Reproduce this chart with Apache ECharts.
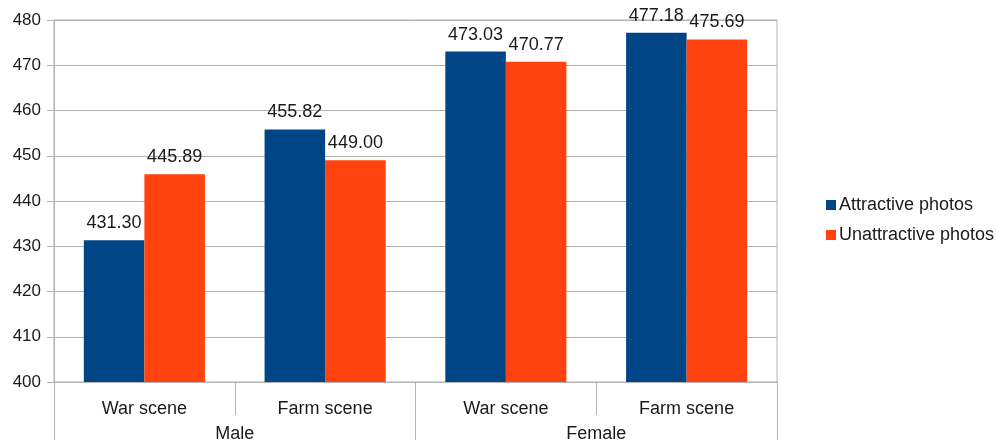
<!DOCTYPE html>
<html>
<head>
<meta charset="utf-8">
<script src="https://cdn.jsdelivr.net/npm/echarts@6/dist/echarts.min.js"></script>
<style>
  html, body { margin: 0; padding: 0; background: #fff; }
  #chart { width: 996px; height: 443px; }
</style>
</head>
<body>
<div id="chart"></div>
<script>
// Scene categories (inner level) and gender groups (outer level)
const scenes = ['War scene', 'Farm scene', 'War scene', 'Farm scene'];
const genders = ['Male', 'Female'];
const seriesNames = ['Attractive photos', 'Unattractive photos'];
const attractive = [431.30, 455.82, 473.03, 477.18];
const unattractive = [445.89, 449.00, 470.77, 475.69];
const yTicks = { min: 400, max: 480, step: 10 };

const FONT = '"Liberation Sans", Arial, sans-serif';
const TEXT = '#1a1a1a';
const LINE = '#b3b3b3';

const chart = echarts.init(document.getElementById('chart'));

function valueLabel() {
  return {
    show: true,
    position: 'top',
    distance: 8,
    color: TEXT,
    fontFamily: FONT,
    fontSize: 18,
    formatter: p => p.value.toFixed(2)
  };
}

chart.setOption({
  animation: false,
  backgroundColor: '#fff',
  textStyle: { fontFamily: FONT },
  grid: {
    left: 54, right: 219, top: 20, bottom: 61,
    show: true, borderColor: LINE, borderWidth: 1, backgroundColor: 'transparent'
  },
  legend: {
    orient: 'vertical',
    left: 826,
    top: 196,
    padding: 0,
    icon: 'rect',
    itemWidth: 10,
    itemHeight: 10,
    itemGap: 12,
    textStyle: { color: TEXT, fontFamily: FONT, fontSize: 18, padding: [0, 0, 0, -2] },
    data: seriesNames
  },
  xAxis: [
    {
      type: 'category',
      data: scenes,
      axisLine: { show: true, lineStyle: { color: LINE } },
      axisTick: { show: true, length: 33, interval: 0, lineStyle: { color: LINE } },
      axisLabel: { color: TEXT, fontFamily: FONT, fontSize: 18, margin: 18, interval: 0 },
      splitLine: { show: false }
    },
    {
      type: 'category',
      data: genders,
      position: 'bottom',
      axisLine: { show: false },
      axisTick: { show: true, length: 58, interval: 0, lineStyle: { color: LINE } },
      axisLabel: { color: TEXT, fontFamily: FONT, fontSize: 18, margin: 43, interval: 0 },
      splitLine: { show: false }
    }
  ],
  yAxis: {
    type: 'value',
    min: yTicks.min,
    max: yTicks.max,
    interval: yTicks.step,
    axisLine: { show: true, lineStyle: { color: LINE } },
    axisTick: { show: true, length: 7, lineStyle: { color: LINE } },
    axisLabel: { color: TEXT, fontFamily: FONT, fontSize: 17, margin: 13 },
    splitLine: { show: true, lineStyle: { color: LINE } }
  },
  series: [
    {
      name: seriesNames[0],
      type: 'bar',
      xAxisIndex: 0,
      data: attractive,
      barGap: '0%',
      barCategoryGap: '33%',
      itemStyle: { color: '#004586' },
      label: valueLabel()
    },
    {
      name: seriesNames[1],
      type: 'bar',
      xAxisIndex: 0,
      data: unattractive,
      barGap: '0%',
      barCategoryGap: '33%',
      itemStyle: { color: '#ff420e' },
      label: valueLabel()
    }
  ]
});
</script>
</body>
</html>
